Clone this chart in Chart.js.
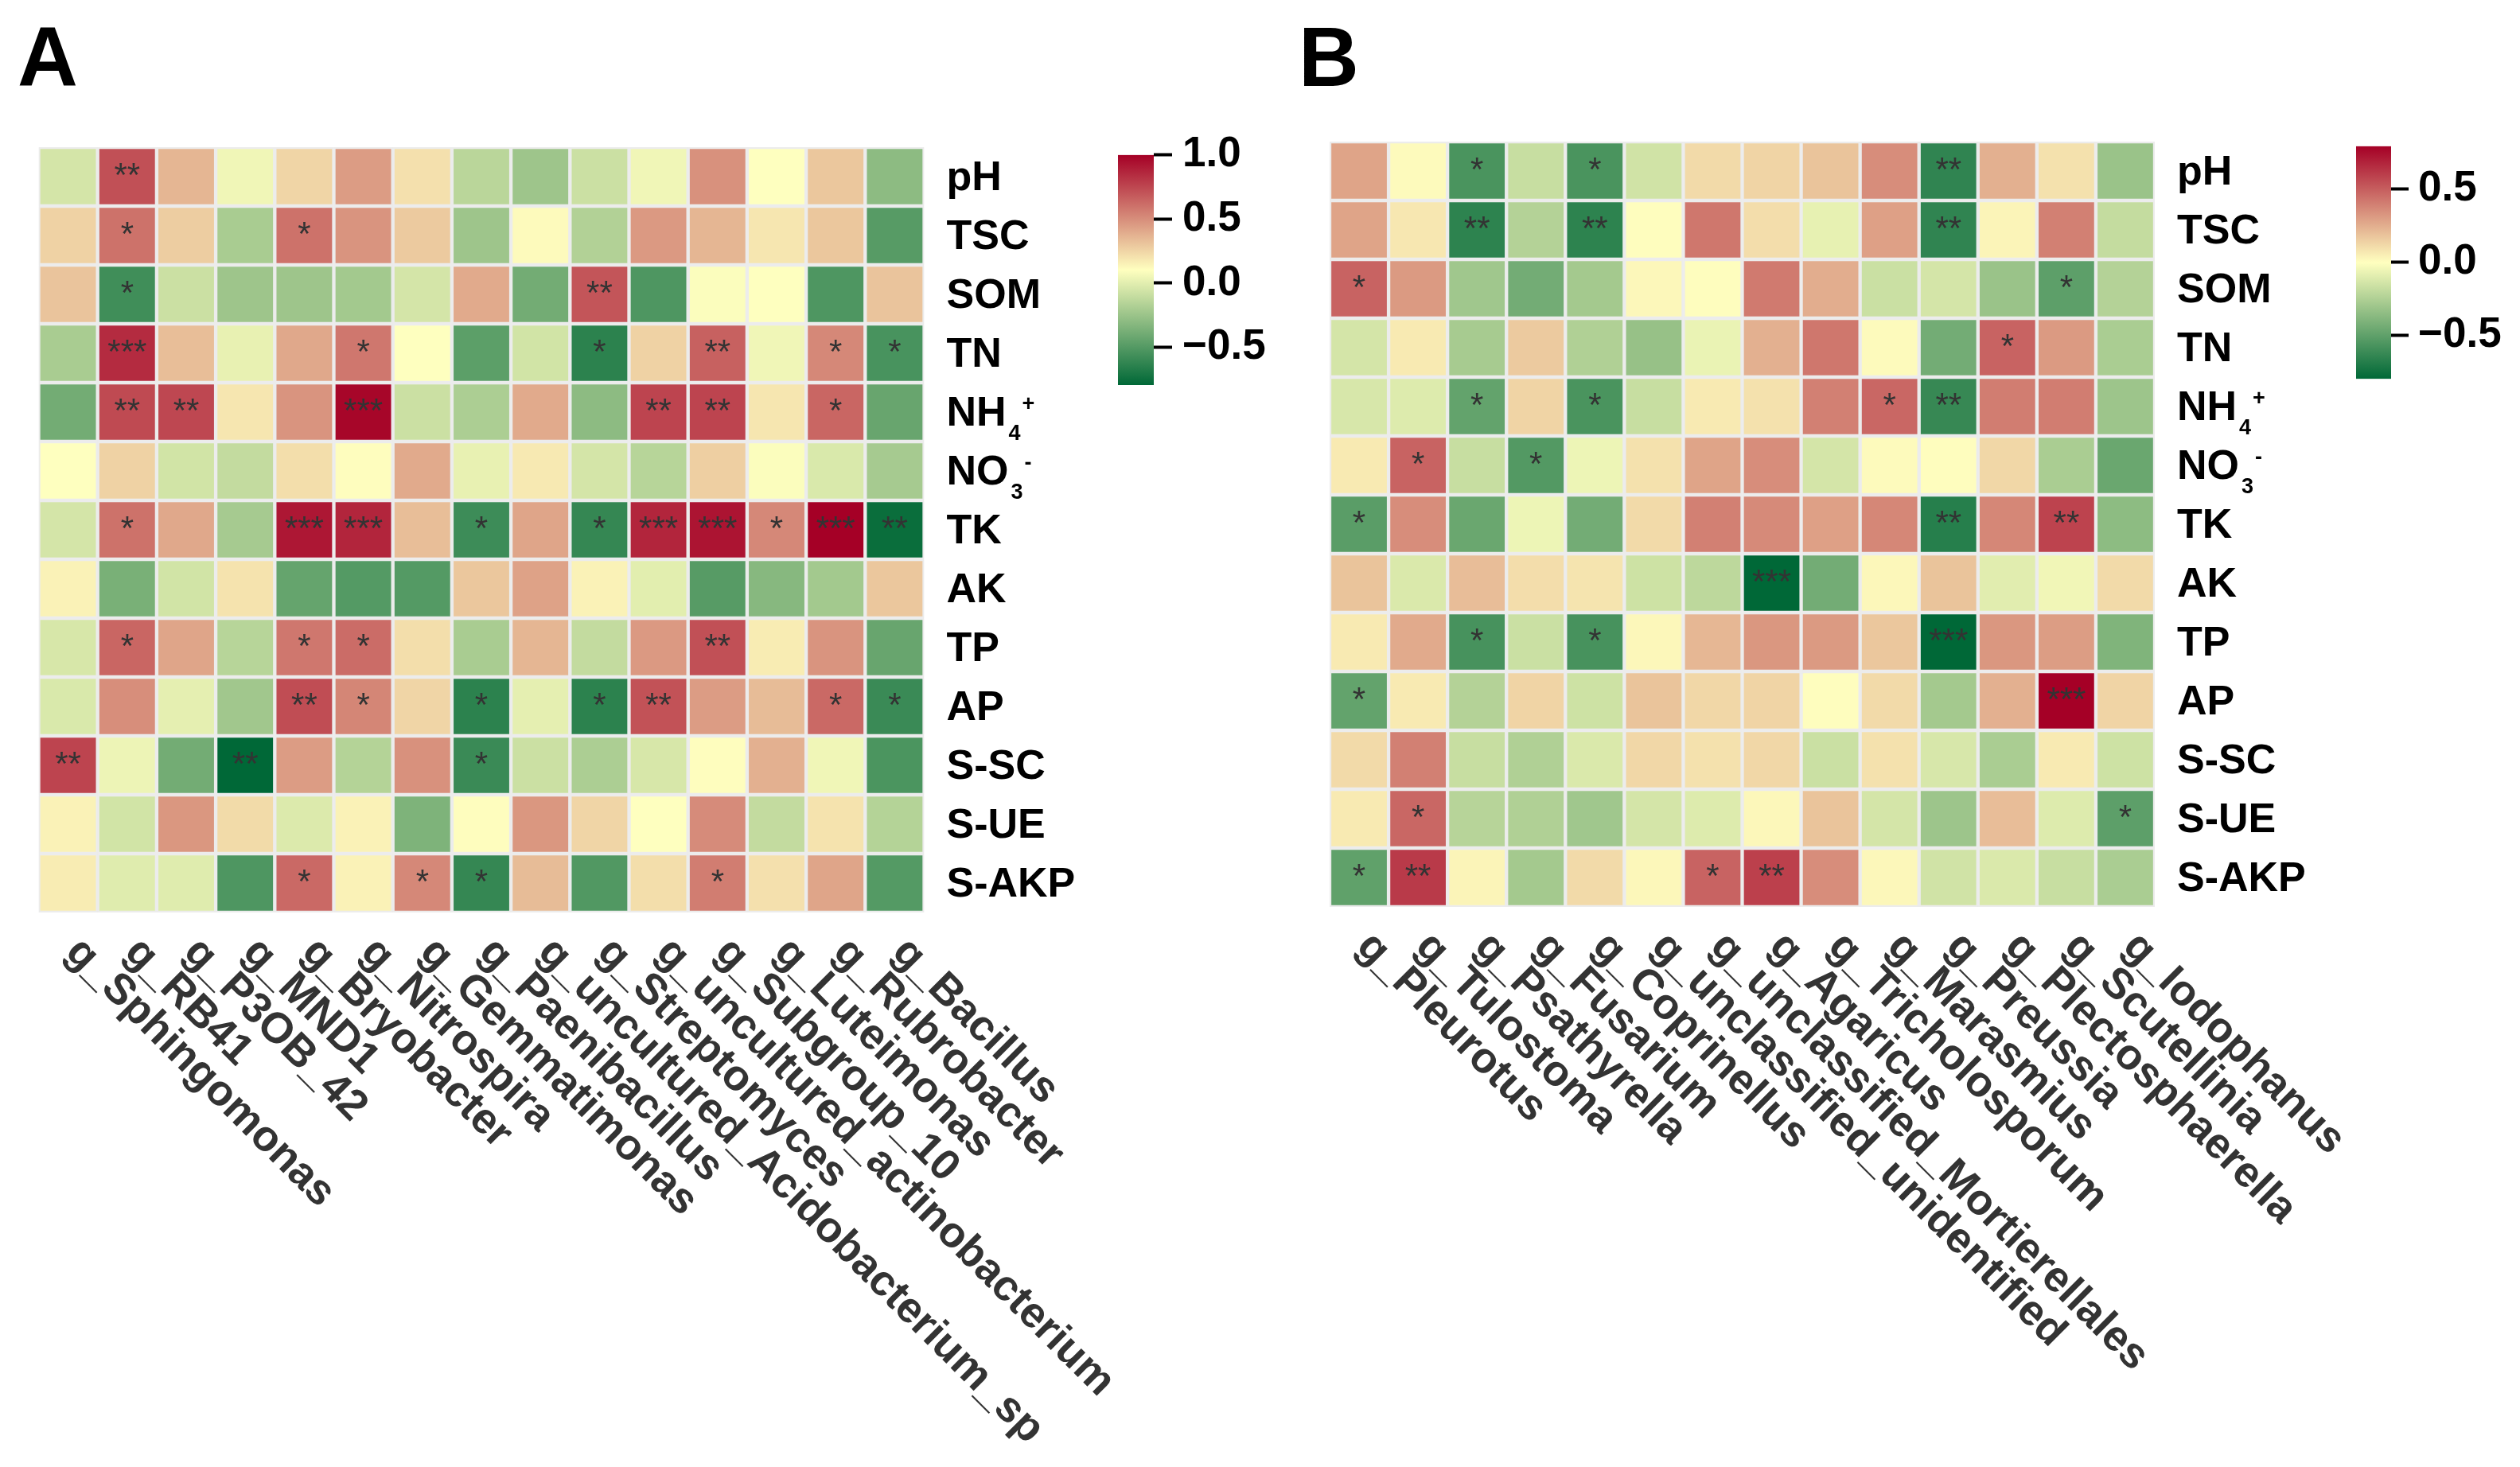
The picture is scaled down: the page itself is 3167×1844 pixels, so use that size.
<!DOCTYPE html>
<html lang="en">
<head>
  <meta charset="UTF-8">
  <title>Correlation heatmaps</title>
  <script src="https://cdn.jsdelivr.net/npm/chart.js"></script>
  <style>
    body {
      margin: 0;
      background: #fff;
      width: 3167px;
      height: 1844px;
      position: relative;
      overflow: hidden;
      font-family: 'Liberation Sans', Arial, sans-serif;
    }
    canvas { position: absolute; }
    .tag {
      position: absolute;
      font: bold 105px 'Liberation Sans', Arial, sans-serif;
      line-height: 1;
      color: #000;
    }
  </style>
</head>
<body>
  <div class="tag" style="left:22px; top:19px;">A</div>
  <div class="tag" style="left:1632px; top:19px;">B</div>

  <canvas id="heatA" width="1450" height="1844" style="left:0; top:0;"></canvas>
  <canvas id="barA" width="200" height="380" style="left:1405px; top:150px;"></canvas>
  <canvas id="heatB" width="1400" height="1844" style="left:1600px; top:0;"></canvas>
  <canvas id="barB" width="206" height="380" style="left:2961px; top:140px;"></canvas>

  <script>
    // soil properties (rows, shared by both panels)
    const soilRows = ['pH', 'TSC', 'SOM', 'TN', 'NH4+', 'NO3-', 'TK', 'AK', 'TP', 'AP', 'S-SC', 'S-UE', 'S-AKP'];

    // panel A : bacterial genera
    const bacGenera = ['g_Sphingomonas', 'g_RB41', 'g_P3OB_42', 'g_MND1', 'g_Bryobacter', 'g_Nitrospira',
      'g_Gemmatimonas', 'g_Paenibacillus', 'g_uncultured_Acidobacterium_sp', 'g_Streptomyces',
      'g_uncultured_actinobacterium', 'g_Subgroup_10', 'g_Luteimonas', 'g_Rubrobacter', 'g_Bacillus'];

    const bac_pH   = [-0.05, 0.72, 0.36, 0.05, 0.25, 0.45, 0.21, -0.14, -0.24, -0.08, 0.05, 0.49, 0.10, 0.30, -0.30];
    const bac_TSC  = [0.26, 0.60, 0.28, -0.20, 0.60, 0.48, 0.29, -0.24, 0.12, -0.17, 0.46, 0.36, 0.19, 0.30, -0.49];
    const bac_SOM  = [0.31, -0.57, -0.08, -0.24, -0.24, -0.22, -0.05, 0.40, -0.39, 0.70, -0.52, 0.09, 0.10, -0.52, 0.31];
    const bac_TN   = [-0.20, 0.85, 0.33, 0.02, 0.41, 0.58, 0.10, -0.47, -0.06, -0.64, 0.26, 0.66, 0.05, 0.52, -0.54];
    const bac_NH4  = [-0.39, 0.74, 0.75, 0.19, 0.48, 0.98, -0.08, -0.19, 0.40, -0.30, 0.76, 0.76, 0.19, 0.64, -0.43];
    const bac_NO3  = [0.10, 0.26, -0.06, -0.11, 0.22, 0.11, 0.40, 0.02, 0.18, -0.05, -0.15, 0.27, 0.09, -0.03, -0.21];
    const bac_TK   = [-0.05, 0.60, 0.41, -0.21, 0.92, 0.87, 0.33, -0.58, 0.42, -0.61, 0.87, 0.93, 0.52, 1.00, -0.76];
    const bac_AK   = [0.15, -0.37, -0.06, 0.20, -0.44, -0.50, -0.50, 0.30, 0.43, 0.15, 0.00, -0.49, -0.32, -0.22, 0.30];
    const bac_TP   = [-0.04, 0.64, 0.42, -0.15, 0.58, 0.62, 0.22, -0.20, 0.36, -0.11, 0.46, 0.72, 0.17, 0.48, -0.43];
    const bac_AP   = [-0.03, 0.50, 0.01, -0.23, 0.73, 0.53, 0.25, -0.64, 0.01, -0.64, 0.71, 0.45, 0.34, 0.63, -0.59];
    const bac_SSC  = [0.76, 0.04, -0.39, -0.80, 0.45, -0.16, 0.49, -0.59, -0.08, -0.19, -0.04, 0.11, 0.38, 0.05, -0.53];
    const bac_SUE  = [0.15, -0.06, 0.47, 0.23, -0.02, 0.15, -0.35, 0.11, 0.47, 0.25, 0.10, 0.51, -0.11, 0.20, -0.16];
    const bac_SAKP = [0.17, -0.01, -0.01, -0.52, 0.63, 0.15, 0.52, -0.61, 0.34, -0.51, 0.22, 0.56, 0.21, 0.42, -0.50];

    // number of significance stars per cell
    const bacSig_pH   = [0, 2, 0, 0, 0, 0, 0, 0, 0, 0, 0, 0, 0, 0, 0];
    const bacSig_TSC  = [0, 1, 0, 0, 1, 0, 0, 0, 0, 0, 0, 0, 0, 0, 0];
    const bacSig_SOM  = [0, 1, 0, 0, 0, 0, 0, 0, 0, 2, 0, 0, 0, 0, 0];
    const bacSig_TN   = [0, 3, 0, 0, 0, 1, 0, 0, 0, 1, 0, 2, 0, 1, 1];
    const bacSig_NH4  = [0, 2, 2, 0, 0, 3, 0, 0, 0, 0, 2, 2, 0, 1, 0];
    const bacSig_NO3  = [0, 0, 0, 0, 0, 0, 0, 0, 0, 0, 0, 0, 0, 0, 0];
    const bacSig_TK   = [0, 1, 0, 0, 3, 3, 0, 1, 0, 1, 3, 3, 1, 3, 2];
    const bacSig_AK   = [0, 0, 0, 0, 0, 0, 0, 0, 0, 0, 0, 0, 0, 0, 0];
    const bacSig_TP   = [0, 1, 0, 0, 1, 1, 0, 0, 0, 0, 0, 2, 0, 0, 0];
    const bacSig_AP   = [0, 0, 0, 0, 2, 1, 0, 1, 0, 1, 2, 0, 0, 1, 1];
    const bacSig_SSC  = [2, 0, 0, 2, 0, 0, 0, 1, 0, 0, 0, 0, 0, 0, 0];
    const bacSig_SUE  = [0, 0, 0, 0, 0, 0, 0, 0, 0, 0, 0, 0, 0, 0, 0];
    const bacSig_SAKP = [0, 0, 0, 0, 1, 0, 1, 1, 0, 0, 0, 1, 0, 0, 0];

    // panel B : fungal genera
    const funGenera = ['g_Pleurotus', 'g_Tulostoma', 'g_Psathyrella', 'g_Fusarium', 'g_Coprinellus',
      'g_unclassified_unidentified', 'g_unclassified_Mortierellales', 'g_Agaricus', 'g_Tricholosporum',
      'g_Marasmius', 'g_Preussia', 'g_Plectosphaerella', 'g_Scutellinia', 'g_Iodophanus'];

    const fun_pH   = [0.28, 0.01, -0.57, -0.18, -0.57, -0.15, 0.11, 0.13, 0.18, 0.35, -0.65, 0.24, 0.09, -0.32];
    const fun_TSC  = [0.28, 0.07, -0.66, -0.24, -0.66, 0.00, 0.42, 0.10, -0.08, 0.29, -0.65, 0.03, 0.39, -0.19];
    const fun_SOM  = [0.48, 0.31, -0.30, -0.44, -0.29, 0.02, 0.00, 0.41, 0.25, -0.17, -0.14, -0.32, -0.51, -0.24];
    const fun_TN   = [-0.14, 0.06, -0.28, 0.16, -0.25, -0.33, -0.07, 0.24, 0.42, 0.01, -0.44, 0.48, 0.31, -0.27];
    const fun_NH4  = [-0.13, -0.11, -0.49, 0.13, -0.57, -0.18, 0.06, 0.09, 0.39, 0.47, -0.63, 0.40, 0.40, -0.31];
    const fun_NO3  = [0.06, 0.48, -0.18, -0.54, -0.06, 0.09, 0.28, 0.35, -0.14, 0.01, 0.00, 0.12, -0.27, -0.47];
    const fun_TK   = [-0.52, 0.35, -0.47, -0.06, -0.44, 0.11, 0.39, 0.36, 0.29, 0.37, -0.68, 0.37, 0.58, -0.36];
    const fun_AK   = [0.18, -0.12, 0.20, 0.10, 0.08, -0.16, -0.21, -0.80, -0.44, 0.02, 0.18, -0.10, -0.05, 0.11];
    const fun_TP   = [0.06, 0.26, -0.58, -0.17, -0.58, 0.02, 0.22, 0.32, 0.31, 0.17, -0.80, 0.32, 0.30, -0.40];
    const fun_AP   = [-0.49, 0.06, -0.24, 0.13, -0.16, 0.18, 0.12, 0.13, 0.00, 0.11, -0.29, 0.24, 0.79, 0.13];
    const fun_SSC  = [0.11, 0.39, -0.18, -0.25, -0.12, 0.12, 0.09, 0.12, -0.17, 0.09, -0.13, -0.27, 0.06, -0.16];
    const fun_SUE  = [0.06, 0.47, -0.23, -0.25, -0.30, -0.14, -0.11, 0.02, 0.18, -0.14, -0.31, 0.20, -0.11, -0.51];
    const fun_SAKP = [-0.50, 0.61, 0.03, -0.29, 0.11, 0.02, 0.48, 0.59, 0.35, 0.02, -0.15, -0.12, -0.18, -0.27];

    const funSig_pH   = [0, 0, 1, 0, 1, 0, 0, 0, 0, 0, 2, 0, 0, 0];
    const funSig_TSC  = [0, 0, 2, 0, 2, 0, 0, 0, 0, 0, 2, 0, 0, 0];
    const funSig_SOM  = [1, 0, 0, 0, 0, 0, 0, 0, 0, 0, 0, 0, 1, 0];
    const funSig_TN   = [0, 0, 0, 0, 0, 0, 0, 0, 0, 0, 0, 1, 0, 0];
    const funSig_NH4  = [0, 0, 1, 0, 1, 0, 0, 0, 0, 1, 2, 0, 0, 0];
    const funSig_NO3  = [0, 1, 0, 1, 0, 0, 0, 0, 0, 0, 0, 0, 0, 0];
    const funSig_TK   = [1, 0, 0, 0, 0, 0, 0, 0, 0, 0, 2, 0, 2, 0];
    const funSig_AK   = [0, 0, 0, 0, 0, 0, 0, 3, 0, 0, 0, 0, 0, 0];
    const funSig_TP   = [0, 0, 1, 0, 1, 0, 0, 0, 0, 0, 3, 0, 0, 0];
    const funSig_AP   = [1, 0, 0, 0, 0, 0, 0, 0, 0, 0, 0, 0, 3, 0];
    const funSig_SSC  = [0, 0, 0, 0, 0, 0, 0, 0, 0, 0, 0, 0, 0, 0];
    const funSig_SUE  = [0, 1, 0, 0, 0, 0, 0, 0, 0, 0, 0, 0, 0, 1];
    const funSig_SAKP = [1, 2, 0, 0, 0, 0, 1, 2, 0, 0, 0, 0, 0, 0];

    // colour scale limits and colour bar ticks
    const bacRange = [-0.795, 1.0];
    const funRange = [-0.80, 0.79];
    const bacTicks = [-0.5, 0, 0.5, 1.0];
    const funTicks = [-0.5, 0, 0.5];

    const bacValues = [bac_pH, bac_TSC, bac_SOM, bac_TN, bac_NH4, bac_NO3, bac_TK, bac_AK, bac_TP, bac_AP, bac_SSC, bac_SUE, bac_SAKP];
    const bacSig = [bacSig_pH, bacSig_TSC, bacSig_SOM, bacSig_TN, bacSig_NH4, bacSig_NO3, bacSig_TK, bacSig_AK, bacSig_TP, bacSig_AP, bacSig_SSC, bacSig_SUE, bacSig_SAKP];
    const funValues = [fun_pH, fun_TSC, fun_SOM, fun_TN, fun_NH4, fun_NO3, fun_TK, fun_AK, fun_TP, fun_AP, fun_SSC, fun_SUE, fun_SAKP];
    const funSig = [funSig_pH, funSig_TSC, funSig_SOM, funSig_TN, funSig_NH4, funSig_NO3, funSig_TK, funSig_AK, funSig_TP, funSig_AP, funSig_SSC, funSig_SUE, funSig_SAKP];

    const FONT = "'Liberation Sans', Arial, sans-serif";
    Chart.defaults.font.family = FONT;

    const LOW = [0x00, 0x68, 0x37], MID = [0xff, 0xff, 0xbf], HIGH = [0xa5, 0x00, 0x26];

    function rampColor(v, vmin, vmax) {
      const mid = (vmin + vmax) / 2;
      let a, b, t;
      if (v <= mid) { a = LOW; b = MID; t = (v - vmin) / (mid - vmin); }
      else { a = MID; b = HIGH; t = (v - mid) / (vmax - mid); }
      t = Math.max(0, Math.min(1, t));
      const c = a.map((x, i) => Math.round(x + (b[i] - x) * t));
      return `rgb(${c[0]},${c[1]},${c[2]})`;
    }

    // NH4+ / NO3- get sub- and superscripts
    const labelParts = { 'NH4+': ['NH', '4', '+'], 'NO3-': ['NO', '3', '-'] };

    function drawRowLabel(ctx, text, x, y) {
      const parts = labelParts[text] || [text, '', ''];
      ctx.textAlign = 'left';
      ctx.textBaseline = 'alphabetic';
      ctx.fillStyle = '#000';
      ctx.font = `bold 52px ${FONT}`;
      ctx.fillText(parts[0], x, y);
      let cx = x + ctx.measureText(parts[0]).width + 3;
      if (parts[1]) {
        ctx.font = `bold 27px ${FONT}`;
        ctx.fillText(parts[1], cx, y + 18);
        cx += ctx.measureText(parts[1]).width + 2;
        ctx.fillText(parts[2], cx, y - 19);
      }
    }

    const heatLabels = {
      id: 'heatLabels',
      afterDraw(chart, args, opts) {
        const { ctx, chartArea } = chart;
        const xs = chart.scales.x, ys = chart.scales.y;
        ctx.save();
        // significance stars
        ctx.fillStyle = '#333';
        ctx.font = `42px ${FONT}`;
        ctx.textAlign = 'center';
        ctx.textBaseline = 'middle';
        opts.sig.forEach((row, r) => {
          row.forEach((n, c) => {
            if (n > 0) ctx.fillText('*'.repeat(n), xs.getPixelForValue(c), ys.getPixelForValue(r + 0.5));
          });
        });
        // row labels on the right
        soilRows.forEach((name, r) => {
          drawRowLabel(ctx, name, chartArea.right + 28, ys.getPixelForValue(r + 0.5) + 17);
        });
        // column labels, rotated 45 degrees downwards
        ctx.fillStyle = '#333';
        ctx.font = `bold 54px ${FONT}`;
        ctx.textAlign = 'left';
        ctx.textBaseline = 'alphabetic';
        chart.data.labels.forEach((lab, c) => {
          ctx.save();
          ctx.translate(xs.getPixelForValue(c) - 5, chartArea.bottom + 52);
          ctx.rotate(Math.PI / 4);
          ctx.fillText(lab, 0, 0);
          ctx.restore();
        });
        ctx.restore();
      }
    };

    function makeHeatmap(id, genera, values, sig, range, padding) {
      const datasets = values.map((vals, r) => ({
        label: soilRows[r],
        data: vals.map(() => [r, r + 1]),
        backgroundColor: vals.map(v => rampColor(v, range[0], range[1])),
        borderColor: '#ececec',
        borderWidth: 2.5,
        borderSkipped: false,
        barPercentage: 1,
        categoryPercentage: 1,
        grouped: false
      }));
      return new Chart(document.getElementById(id), {
        type: 'bar',
        data: { labels: genera, datasets: datasets },
        options: {
          responsive: false,
          animation: false,
          layout: { padding: padding },
          plugins: {
            legend: { display: false },
            tooltip: { enabled: false },
            heatLabels: { sig: sig }
          },
          scales: {
            x: { display: false },
            y: { display: false, min: 0, max: values.length, reverse: true }
          }
        },
        plugins: [heatLabels]
      });
    }

    function makeColorbar(id, range, ticks, padding, axisWidth, tickLen, tickPad) {
      const [vmin, vmax] = range;
      return new Chart(document.getElementById(id), {
        type: 'bar',
        data: {
          labels: [''],
          datasets: [{
            data: [[vmin, vmax]],
            barPercentage: 1,
            categoryPercentage: 1,
            borderWidth: 0,
            backgroundColor: (c) => {
              const ch = c.chart;
              if (!ch.chartArea) return '#ffffbf';
              const y = ch.scales.y;
              const g = ch.ctx.createLinearGradient(0, y.getPixelForValue(vmin), 0, y.getPixelForValue(vmax));
              g.addColorStop(0, '#006837');
              g.addColorStop(0.5, '#ffffbf');
              g.addColorStop(1, '#a50026');
              return g;
            }
          }]
        },
        options: {
          responsive: false,
          animation: false,
          layout: { padding: padding },
          plugins: { legend: { display: false }, tooltip: { enabled: false } },
          scales: {
            x: { display: false },
            y: {
              position: 'right',
              min: vmin,
              max: vmax,
              afterBuildTicks: s => { s.ticks = ticks.map(v => ({ value: v })); },
              afterFit: s => { s.width = axisWidth; },
              grid: { drawOnChartArea: false, drawTicks: true, tickLength: tickLen, tickWidth: 4, tickColor: '#000' },
              border: { display: false },
              ticks: {
                autoSkip: false,
                padding: tickPad,
                color: '#000',
                font: { size: 53, weight: 'bold' },
                callback: v => (v < 0 ? '\u2212' : '') + Math.abs(v).toFixed(1)
              }
            }
          }
        }
      });
    }

    makeHeatmap('heatA', bacGenera, bacValues, bacSig, bacRange, { left: 48.5, top: 185, right: 288.5, bottom: 697 });
    makeHeatmap('heatB', funGenera, funValues, funSig, funRange, { left: 71, top: 178, right: 292, bottom: 704 });
    makeColorbar('barA', bacRange, bacTicks, { left: 0, top: 36, right: 0, bottom: 46 }, 155, 23, 13);
    makeColorbar('barB', funRange, funTicks, { left: 0, top: 43, right: 0, bottom: 43 }, 162, 22, 12);
  </script>
</body>
</html>
